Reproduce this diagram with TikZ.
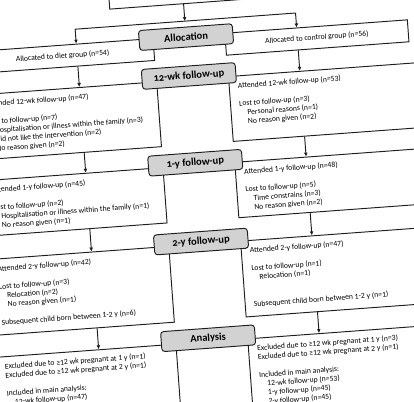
\documentclass[tikz,border=0pt]{standalone}
\usepackage{fontspec}
\setmainfont{Carlito}
\usepackage{tikz}
\usetikzlibrary{arrows.meta,calc}
\definecolor{HeadGray}{RGB}{210,210,210}
\definecolor{FrameGray}{RGB}{30,30,30}
\newcommand{\subline}{\hspace*{7.5pt}}

\begin{document}
\begin{tikzpicture}[x=1pt,y=-1pt,
    box/.style={draw=FrameGray, line width=0.95pt, inner sep=0pt},
    head/.style={draw=FrameGray, line width=0.95pt, fill=HeadGray, rounded corners=3pt,
      minimum width=94pt, minimum height=20pt, inner sep=0pt,
      font=\fontsize{10.5}{12}\selectfont\bfseries\addfontfeatures{Numbers=OldStyle}},
    txt/.style={anchor=north west, align=left, inner sep=0pt, font=\fontsize{7.7}{9}\selectfont},
    arr/.style={FrameGray, line width=0.95pt, -{Latex[length=4pt,width=3.8pt]}}]

  \useasboundingbox (0,0) rectangle (414,401);
  \clip (0,0) rectangle (414,401);
  \begin{scope}[shift={(207,200)}, rotate=4.2, transform shape]
    % enrolment box, only its foot is in view
    \node[box, minimum width=148pt, minimum height=30pt] (enrol) at (-9,-212.5) {};
    \coordinate (split) at (-9,-180);
    \coordinate (colL) at (-119,-180);
    \coordinate (colR) at (102,-180);

    % allocation
    \node[box, minimum width=183pt, minimum height=22pt, font=\fontsize{7.7}{9}\selectfont] (dietA) at (-133.5,-154) {Allocated to diet group (n=54)};
    \node[box, minimum width=183pt, minimum height=22pt, font=\fontsize{7.7}{9}\selectfont] (ctrlA) at (121.5,-154) {Allocated to control group (n=56)};

    % follow-up and analysis boxes, diet left, control right
    \foreach \nm/\ytop/\bh in {wk/-122/65, yr/-36/55.5, two/43/76, an/141/90} {
      \node[box, anchor=north west, minimum width=182pt, minimum height=\bh pt] (\nm D) at (-224,\ytop) {};
      \node[box, anchor=north west, minimum width=192pt, minimum height=\bh pt] (\nm C) at (30,\ytop) {};
    }

    \node[txt] (wkDt) at (-214,-115) {Attended 12-wk follow-up (n=47)\\[9pt]Lost to follow-up (n=7)\\\subline Hospitalisation or illness within the family (n=3)\\\subline Did not like the intervention (n=2)\\\subline No reason given (n=2)};
    \node[txt] (wkCt) at (39,-115) {Attended 12-wk follow-up (n=53)\\[9pt]Lost to follow-up (n=3)\\\subline Personal reasons (n=1)\\\subline No reason given (n=2)};
    \node[txt] (yrDt) at (-214,-29) {Attended 1-y follow-up (n=45)\\[9pt]Lost to follow-up (n=2)\\\subline Hospitalisation or illness within the family (n=1)\\\subline No reason given (n=1)};
    \node[txt] (yrCt) at (39,-29) {Attended 1-y follow-up (n=48)\\[9pt]Lost to follow-up (n=5)\\\subline Time constrains (n=3)\\\subline No reason given (n=2)};
    \node[txt] (twoDt) at (-214,50) {Attended 2-y follow-up (n=42)\\[9pt]Lost to follow-up (n=3)\\\subline Relocation (n=2)\\\subline No reason given (n=1)\\[9pt]Subsequent child born between 1-2 y (n=6)};
    \node[txt] (twoCt) at (39,50) {Attended 2-y follow-up (n=47)\\[9pt]Lost to follow-up (n=1)\\\subline Relocation (n=1)\\[18pt]Subsequent child born between 1-2 y (n=1)};
    \node[txt] (anDt) at (-214,148) {Excluded due to ≥12 wk pregnant at 1 y (n=1)\\Excluded due to ≥12 wk pregnant at 2 y (n=1)\\[9pt]Included in main analysis:\\\subline 12-wk follow-up (n=47)};
    \node[txt] (anCt) at (39,148) {Excluded due to ≥12 wk pregnant at 1 y (n=3)\\Excluded due to ≥12 wk pregnant at 2 y (n=1)\\[9pt]Included in main analysis:\\\subline 12-wk follow-up (n=53)\\\subline 1-y follow-up (n=45)\\\subline 2-y follow-up (n=45)};

    % connectors
    \draw[arr] (enrol.south) -- (split);
    \draw[FrameGray, line width=0.95pt] (colL) -- (colR);
    \draw[arr] (colL) -- ($(dietA.north west)!(colL)!(dietA.north east)$);
    \draw[arr] (colR) -- ($(ctrlA.north west)!(colR)!(ctrlA.north east)$);
    \foreach \a/\b in {dietA/wkD, wkD/yrD, yrD/twoD, twoD/anD}
      \draw[arr] ($(\a.south west)!(colL)!(\a.south east)$) -- ($(\b.north west)!(colL)!(\b.north east)$);
    \foreach \a/\b in {ctrlA/wkC, wkC/yrC, yrC/twoC, twoC/anC}
      \draw[arr] ($(\a.south west)!(colR)!(\a.south east)$) -- ($(\b.north west)!(colR)!(\b.north east)$);

    % stage headers on top
    \foreach \nm/\lbl/\yc in {hAl/Allocation/-164, hWk/12-wk follow-up/-125, hYr/1-y follow-up/-38, hTwo/2-y follow-up/41, hAn/Analysis/138}
      \node[head] (\nm) at (-9,\yc) {\lbl};
  \end{scope}
\end{tikzpicture}
\end{document}
